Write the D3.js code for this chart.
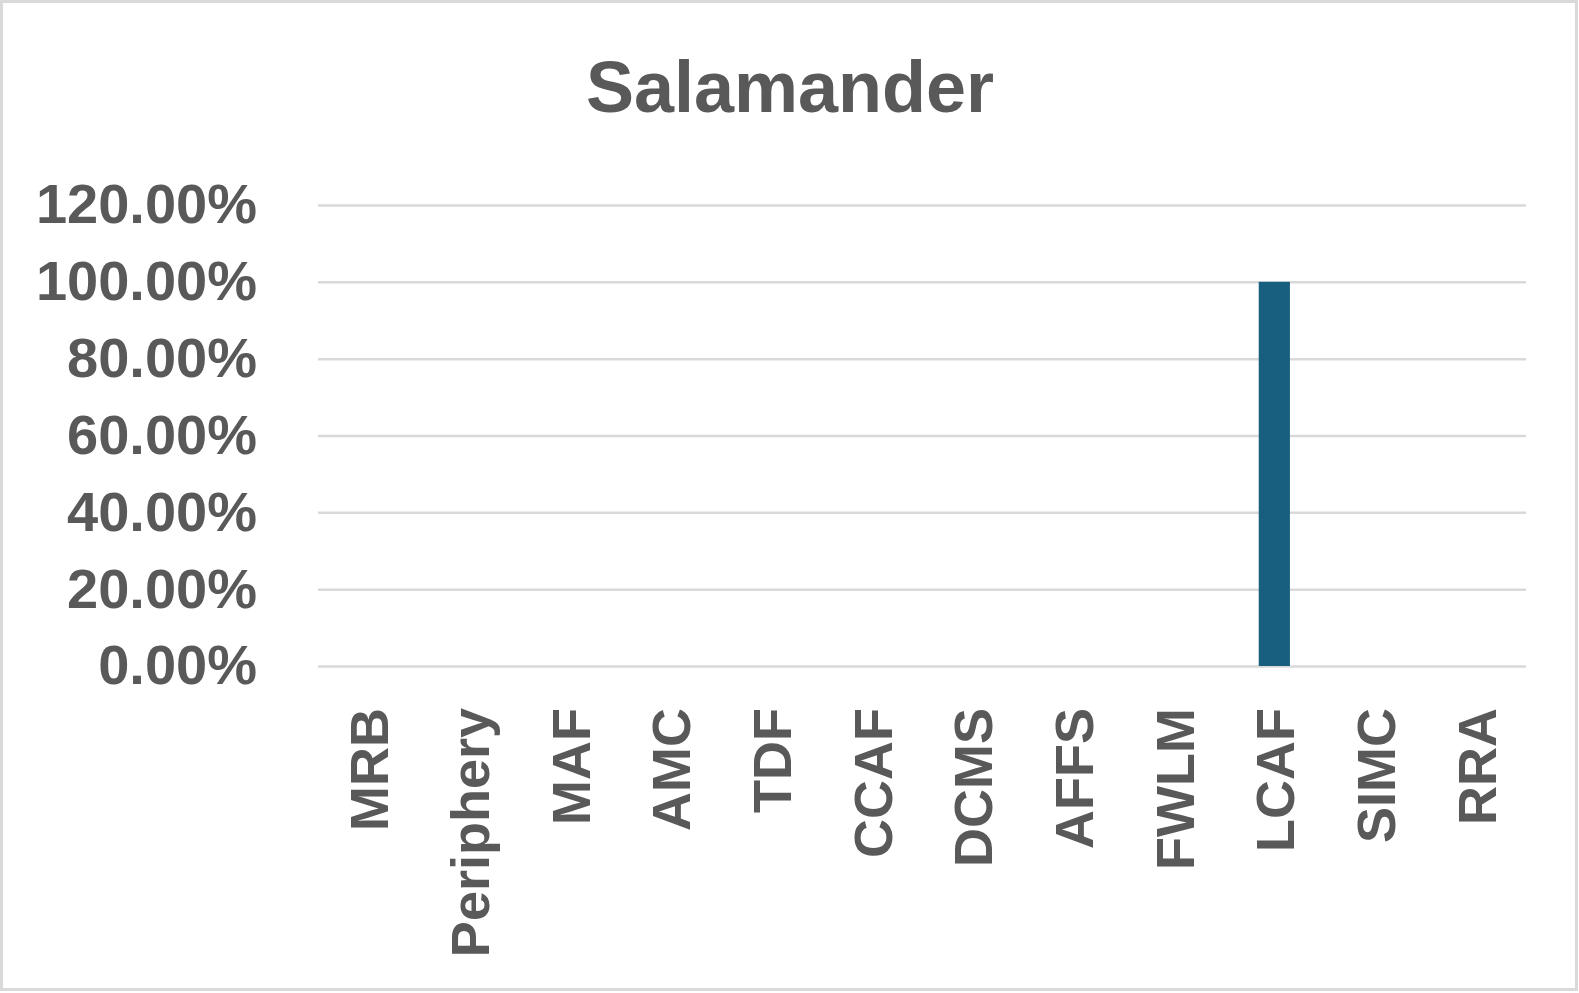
<!DOCTYPE html>
<html><head><meta charset="utf-8">
<script src="https://cdn.jsdelivr.net/npm/d3@7"></script>
<style>html,body{margin:0;padding:0;background:#fff;}svg{display:block;}</style>
</head><body>
<script>
const title = "Salamander";
const categories = ["MRB","Periphery","MAF","AMC","TDF","CCAF","DCMS","AFFS","FWLM","LCAF","SIMC","RRA"];
const values = [0,0,0,0,0,0,0,0,0,1.0,0,0];
const yTicks = [0,0.2,0.4,0.6,0.8,1.0,1.2];

const W = 1579, H = 993;
const svg = d3.select("body").append("svg").attr("width", W).attr("height", H);
svg.append("rect").attr("x",1.5).attr("y",1.5).attr("width",1575).attr("height",988)
  .attr("fill","#fff").attr("stroke","#d9d9d9").attr("stroke-width",3);

const x = d3.scaleBand().domain(categories).range([318,1526]).paddingInner(0.69).paddingOuter(0.345);
const xc = d3.scaleBand().domain(categories).range([318,1526]);
const y = d3.scaleLinear().domain([0,1.2]).range([666,205]);
const font = "'Liberation Sans', Arial, sans-serif";
const col = "#595959";

svg.append("text").attr("x",790).attr("y",112).attr("text-anchor","middle")
  .attr("font-family",font).attr("font-weight","bold").attr("font-size",72).attr("fill",col).text(title);

const yAxis = d3.axisLeft(y).tickValues(yTicks).tickSize(-(1526-318)).tickFormat(d => (d*100).toFixed(2)+"%");
const ga = svg.append("g").attr("transform","translate(318,0)").call(yAxis);
ga.select(".domain").remove();
ga.selectAll(".tick line").attr("stroke","#d9d9d9").attr("stroke-width",2.5);
ga.selectAll(".tick text").attr("x",-61).attr("dy","0.32em")
  .attr("font-family",font).attr("font-weight","bold").attr("font-size",56).attr("fill",col);

svg.append("g").selectAll("rect").data(categories.map((c,i)=>({c,v:values[i]}))).join("rect")
  .attr("x",d=>x(d.c)).attr("width",x.bandwidth())
  .attr("y",d=>y(d.v)).attr("height",d=>y(0)-y(d.v))
  .attr("fill","#175e7f");

svg.append("g").selectAll("text").data(categories).join("text")
  .attr("transform",d=>`translate(${xc(d)+xc.bandwidth()/2+20},708) rotate(-90)`)
  .attr("text-anchor","end")
  .attr("font-family",font).attr("font-weight","bold").attr("font-size",54).attr("fill",col)
  .text(d=>d);
</script>
</body></html>
